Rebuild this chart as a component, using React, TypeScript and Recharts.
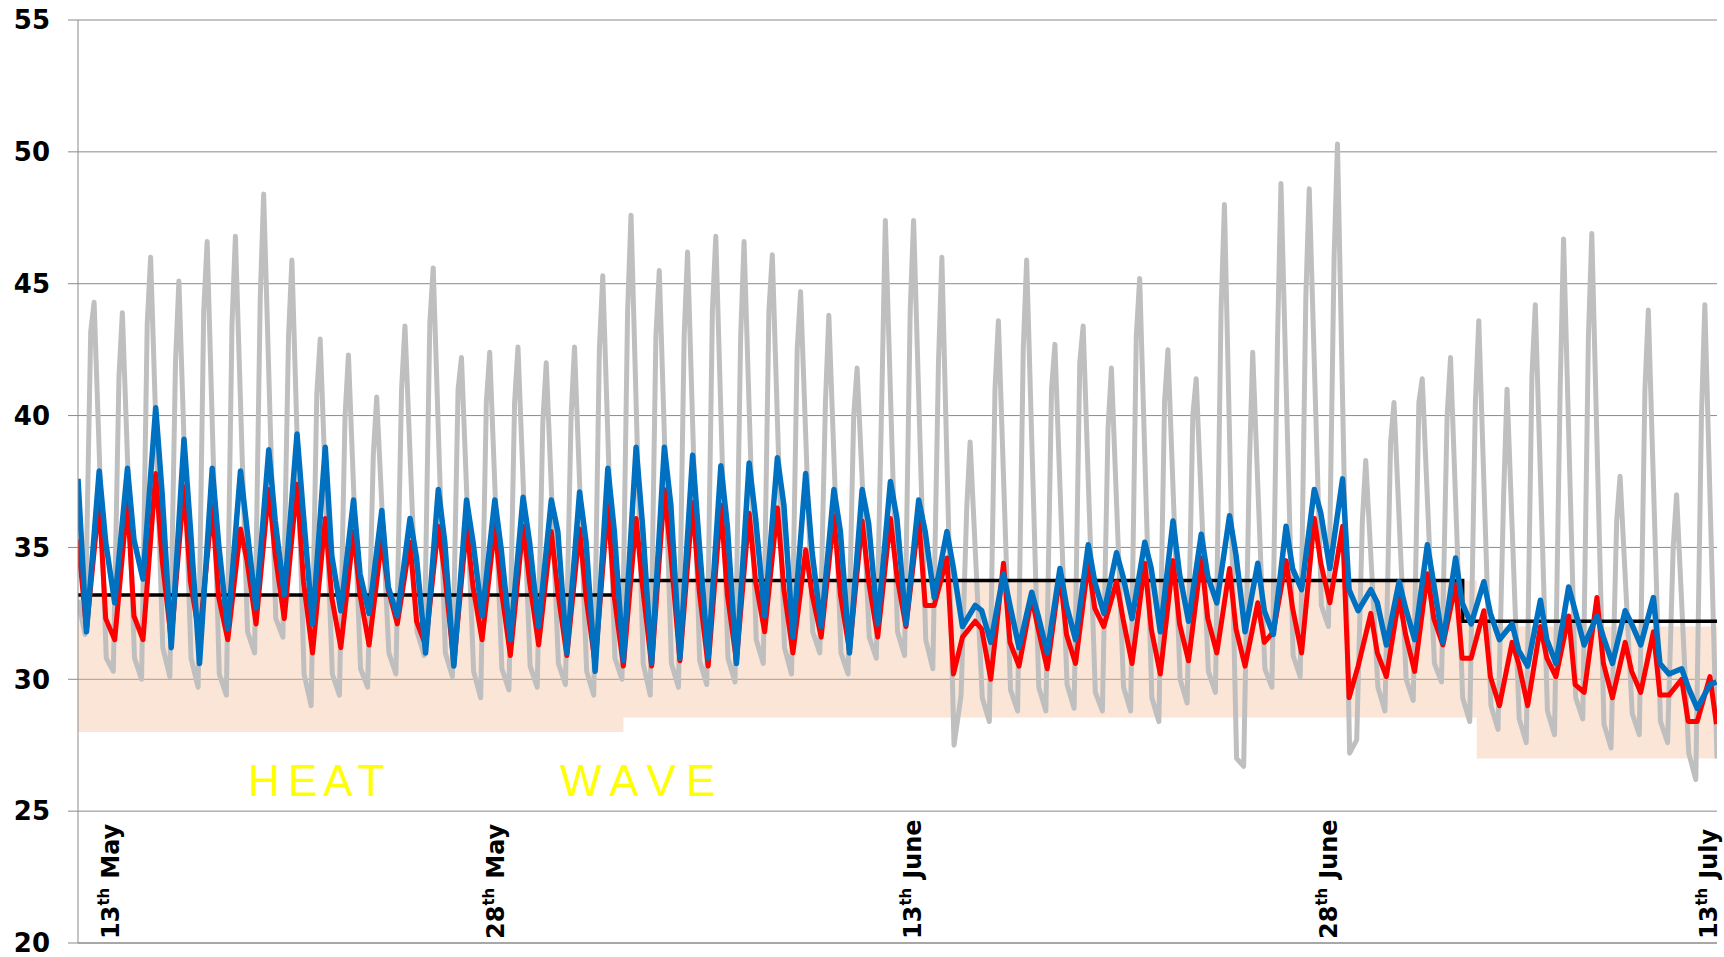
import { LineChart, Line, XAxis, YAxis, CartesianGrid, ReferenceArea, ReferenceLine } from 'recharts'

// day 0 = 13th May, one entry per day (58 days)
const grayEnd = 27.0
const grayNight = [
  33.0, 30.8, 30.8, 31.2, 30.8, 30.2, 31.8, 32.3, 30.2, 30.2,
  30.4, 31.0, 31.8, 31.0, 30.3, 30.4, 30.5, 30.6, 30.3, 30.8,
  30.6, 30.6, 30.7, 30.8, 31.5, 31.2, 31.8, 31.0, 31.6, 31.8,
  31.5, 27.5, 29.3, 29.6, 29.7, 29.8, 29.5, 29.7, 29.3, 30.0,
  30.3, 27.0, 30.4, 30.9, 32.8, 27.2, 29.7, 30.0, 30.6, 29.3,
  29.0, 28.5, 28.8, 29.3, 28.3, 28.7, 28.4, 27.2,
]
const grayMin = [
  31.7, 30.3, 30.0, 30.1, 29.7, 29.4, 31.0, 31.6, 29.0, 29.4,
  29.7, 30.2, 30.9, 30.1, 29.3, 29.6, 29.7, 29.8, 29.4, 30.0,
  29.4, 29.7, 29.8, 29.9, 30.6, 30.2, 31.0, 30.2, 30.8, 30.9,
  30.4, 29.4, 28.4, 28.8, 28.8, 28.9, 28.8, 28.8, 28.4, 29.1,
  29.5, 26.7, 29.7, 30.1, 32.0, 27.7, 28.8, 29.2, 29.9, 28.4,
  28.1, 27.6, 27.9, 28.5, 27.4, 27.9, 27.6, 26.2,
]
const grayRise = [
  43.2, 41.5, 43.5, 42.0, 44.0, 43.5, 44.5, 43.0, 40.8, 40.0,
  38.5, 41.0, 43.5, 41.0, 40.5, 40.5, 39.8, 40.0, 42.5, 44.0,
  43.0, 43.0, 44.0, 43.0, 44.0, 42.5, 40.5, 40.0, 41.0, 44.0,
  42.0, 36.5, 41.0, 42.5, 41.0, 42.0, 39.5, 43.0, 40.5, 40.0,
  44.0, 38.0, 43.0, 44.5, 46.0, 36.0, 39.0, 40.5, 40.0, 40.5,
  37.0, 41.5, 41.0, 43.0, 36.0, 41.0, 35.0, 40.0,
]
const grayMax = [
  44.3, 43.9, 46.0, 45.1, 46.6, 46.8, 48.4, 45.9, 42.9, 42.3,
  40.7, 43.4, 45.6, 42.2, 42.4, 42.6, 42.0, 42.6, 45.3, 47.6,
  45.5, 46.2, 46.8, 46.6, 46.1, 44.7, 43.8, 41.8, 47.4, 47.4,
  46.0, 39.0, 43.6, 45.9, 42.7, 43.4, 41.8, 45.2, 42.5, 41.4,
  48.0, 42.4, 48.8, 48.6, 50.3, 38.3, 40.5, 41.4, 42.2, 43.6,
  41.0, 44.2, 46.7, 46.9, 37.7, 44.0, 37.0, 44.2,
]

const blueStart = 37.6
const blueMin = [
  31.8, 32.9, 33.8, 31.2, 30.6, 31.9, 32.7, 33.2, 32.1, 32.6,
  32.5, 32.4, 31.0, 30.5, 32.4, 31.5, 32.0, 31.0, 30.3, 30.7,
  30.6, 30.8, 30.8, 30.6, 32.4, 31.6, 32.0, 31.0, 32.1, 32.1,
  33.1, 32.0, 31.4, 31.2, 31.0, 31.5, 32.5, 32.3, 31.8, 32.2,
  32.9, 31.8, 31.7, 33.4, 34.2, 32.6, 31.3, 31.5, 31.4, 32.1,
  31.5, 30.5, 30.6, 31.3, 30.6, 31.3, 30.2, 28.9,
]
const blueMax = [
  37.9, 38.0, 40.3, 39.1, 38.0, 37.9, 38.7, 39.3, 38.8, 36.8,
  36.4, 36.1, 37.2, 36.8, 36.8, 36.9, 36.8, 37.1, 38.0, 38.8,
  38.8, 38.5, 38.1, 38.2, 38.4, 37.8, 37.2, 37.2, 37.5, 36.8,
  35.6, 32.8, 34.0, 33.3, 34.2, 35.1, 34.8, 35.2, 36.0, 35.5,
  36.2, 34.4, 35.8, 37.2, 37.6, 33.4, 33.7, 35.1, 34.6, 33.7,
  32.1, 33.0, 33.5, 32.4, 32.6, 33.1, 30.4, 29.8,
]
const blueLate = [
  35.2, 35.3, 37.0, 35.7, 35.1, 35.7, 36.0, 36.2, 34.7, 34.0,
  33.5, 34.6, 35.2, 35.2, 34.9, 35.2, 35.6, 35.2, 35.6, 35.8,
  36.6, 35.2, 35.8, 36.1, 36.6, 34.8, 35.6, 35.9, 36.1, 35.6,
  34.2, 32.6, 32.8, 32.4, 32.8, 33.7, 33.9, 34.2, 34.0, 33.9,
  34.7, 32.6, 34.2, 36.3, 33.4, 32.9, 32.7, 33.6, 32.9, 32.5,
  31.1, 31.5, 32.6, 31.6, 32.1, 30.6, 29.7, 29.9,
]

const redStart = 35.3
const redMin = [
  31.9, 31.5, 31.5, 31.5, 31.6, 31.5, 32.1, 32.3, 31.0, 31.2,
  31.3, 32.1, 31.3, 30.6, 31.5, 30.9, 31.3, 30.9, 30.6, 30.5,
  30.5, 30.7, 30.5, 30.7, 31.8, 31.0, 31.6, 31.1, 31.6, 32.0,
  32.8, 31.6, 30.0, 30.5, 30.4, 30.6, 32.0, 30.6, 30.2, 30.7,
  31.0, 30.5, 31.8, 31.0, 32.9, 30.5, 30.1, 30.3, 31.3, 30.8,
  29.0, 29.0, 30.1, 29.5, 29.3, 29.5, 29.4, 28.4,
]
const redMax = [
  36.8, 36.8, 37.8, 37.3, 36.6, 35.7, 37.2, 37.4, 36.1, 35.6,
  35.3, 35.2, 35.8, 35.8, 35.8, 35.8, 35.6, 35.7, 36.6, 36.1,
  37.2, 36.7, 36.6, 36.3, 36.5, 34.9, 36.2, 36.0, 36.1, 36.1,
  34.6, 32.2, 34.4, 33.1, 34.0, 34.4, 33.7, 34.4, 34.5, 34.6,
  34.2, 32.9, 34.5, 36.1, 35.8, 32.5, 33.1, 34.0, 33.6, 32.6,
  31.4, 32.0, 32.4, 33.1, 31.4, 31.8, 30.0, 30.1,
]
const redLate = [
  32.3, 32.4, 34.5, 33.7, 33.1, 34.5, 34.7, 33.7, 33.1, 33.2,
  33.4, 32.2, 34.0, 33.5, 33.4, 33.7, 33.3, 33.1, 33.1, 33.5,
  34.7, 33.4, 33.2, 33.7, 33.4, 33.2, 33.2, 33.7, 33.9, 32.8,
  30.2, 31.9, 31.4, 31.9, 31.7, 32.7, 32.3, 31.9, 32.1, 32.3,
  31.9, 31.4, 32.7, 34.4, 29.3, 31.0, 31.7, 32.3, 30.8, 30.1,
  30.6, 30.8, 29.8, 30.6, 30.3, 29.4, 28.4, 28.3,
]

// black comfort limit (steps)
const stepFrom = [0, 18.95, 49.0]
const stepTo = [18.95, 49.0, 58]
const stepValue = [33.2, 33.75, 32.2]

// shaded band
const bandFrom = [0, 18.95, 19.3, 49.5]
const bandTo = [18.95, 19.3, 49.5, 58]
const bandLow = [28.0, 28.0, 28.55, 27.0]
const bandHigh = [33.2, 33.75, 33.75, 32.0]

const yTicks = [20, 25, 30, 35, 40, 45, 50, 55]
const tickDays = [1.45, 15.06, 29.83, 44.55, 58]
const tickNums = ['13', '28', '13', '28', '13']
const tickMonths = ['May', 'May', 'June', 'June', 'July']

type Pt = { t: number; v: number }

function buildDaily(start: number | null, parts: [number[], number][], end?: number): Pt[] {
  const out: Pt[] = start != null ? [{ t: 0, v: start }] : []
  const n = parts[0][0].length
  for (let d = 0; d < n; d++) {
    parts.forEach(([arr, off]) => out.push({ t: d + off, v: arr[d] }))
  }
  if (end != null) out.push({ t: n, v: end })
  return out
}

const grayData = buildDaily(
  null,
  [[grayNight, 0], [grayMin, 0.25], [grayRise, 0.45], [grayMax, 0.57]],
  grayEnd,
)
const blueData = buildDaily(blueStart, [[blueMin, 0.3], [blueMax, 0.75], [blueLate, 0.98]])
const redData = buildDaily(redStart, [[redMin, 0.3], [redMax, 0.75], [redLate, 0.98]])
const stepData: Pt[] = stepFrom.flatMap((f, i) => [
  { t: f, v: stepValue[i] },
  { t: stepTo[i], v: stepValue[i] },
])

function DateTick(props: any) {
  const { x, index } = props
  return (
    <text
      transform={`translate(${x},939) rotate(-90)`}
      fontFamily='DejaVu Sans'
      fontWeight='bold'
      fontSize={24}
      fill='#000'
    >
      <tspan>{tickNums[index]}</tspan>
      <tspan fontSize={15} dy={-10}>th</tspan>
      <tspan dy={10} dx={9}>{tickMonths[index]}</tspan>
    </text>
  )
}

export default function App() {
  return (
    <div style={{ position: 'absolute', left: 0, top: 0, width: 1724, height: 957, background: '#fff' }}>
      <LineChart width={1724} height={957} margin={{ top: 20, right: 7, bottom: 0, left: 0 }}>
        <CartesianGrid vertical={false} stroke='#8a8a8a' />
        {bandFrom.map((f, i) => (
          <ReferenceArea
            key={i}
            x1={f}
            x2={bandTo[i]}
            y1={bandLow[i]}
            y2={bandHigh[i]}
            fill='#F4B58A'
            fillOpacity={0.35}
            stroke='none'
          />
        ))}
        <ReferenceLine y={20} stroke='#8a8a8a' />
        <XAxis
          type='number'
          dataKey='t'
          domain={[0, 58]}
          ticks={tickDays}
          interval={0}
          height={14}
          axisLine={false}
          tickLine={false}
          allowDataOverflow
          tick={(p: any) => <DateTick {...p} />}
        />
        <YAxis
          type='number'
          domain={[20, 55]}
          ticks={yTicks}
          interval={0}
          width={78}
          axisLine={{ stroke: '#8a8a8a' }}
          tickLine={{ stroke: '#8a8a8a' }}
          tickSize={10}
          tickMargin={18}
          tick={{ fontFamily: 'DejaVu Sans', fontWeight: 'bold', fontSize: 26, fill: '#000' }}
        />
        <Line data={grayData} dataKey='v' type='linear' stroke='#BFBFBF' strokeWidth={5} dot={false} isAnimationActive={false} strokeLinejoin='round' />
        <Line data={stepData} dataKey='v' type='linear' stroke='#000' strokeWidth={3.5} dot={false} isAnimationActive={false} />
        <Line data={redData} dataKey='v' type='linear' stroke='#FF0000' strokeWidth={5} dot={false} isAnimationActive={false} strokeLinejoin='round' />
        <Line data={blueData} dataKey='v' type='linear' stroke='#0070C0' strokeWidth={5.5} dot={false} isAnimationActive={false} strokeLinejoin='round' />
      </LineChart>
      <svg width={1724} height={957} style={{ position: 'absolute', left: 0, top: 0, pointerEvents: 'none' }}>
        <text x={248} y={796} fill='#FFFF00' fontFamily='Liberation Sans' fontSize={44} letterSpacing={-2}>H E A T</text>
        <text x={560} y={796} fill='#FFFF00' fontFamily='Liberation Sans' fontSize={44} letterSpacing={-1}>W A V E</text>
      </svg>
    </div>
  )
}
